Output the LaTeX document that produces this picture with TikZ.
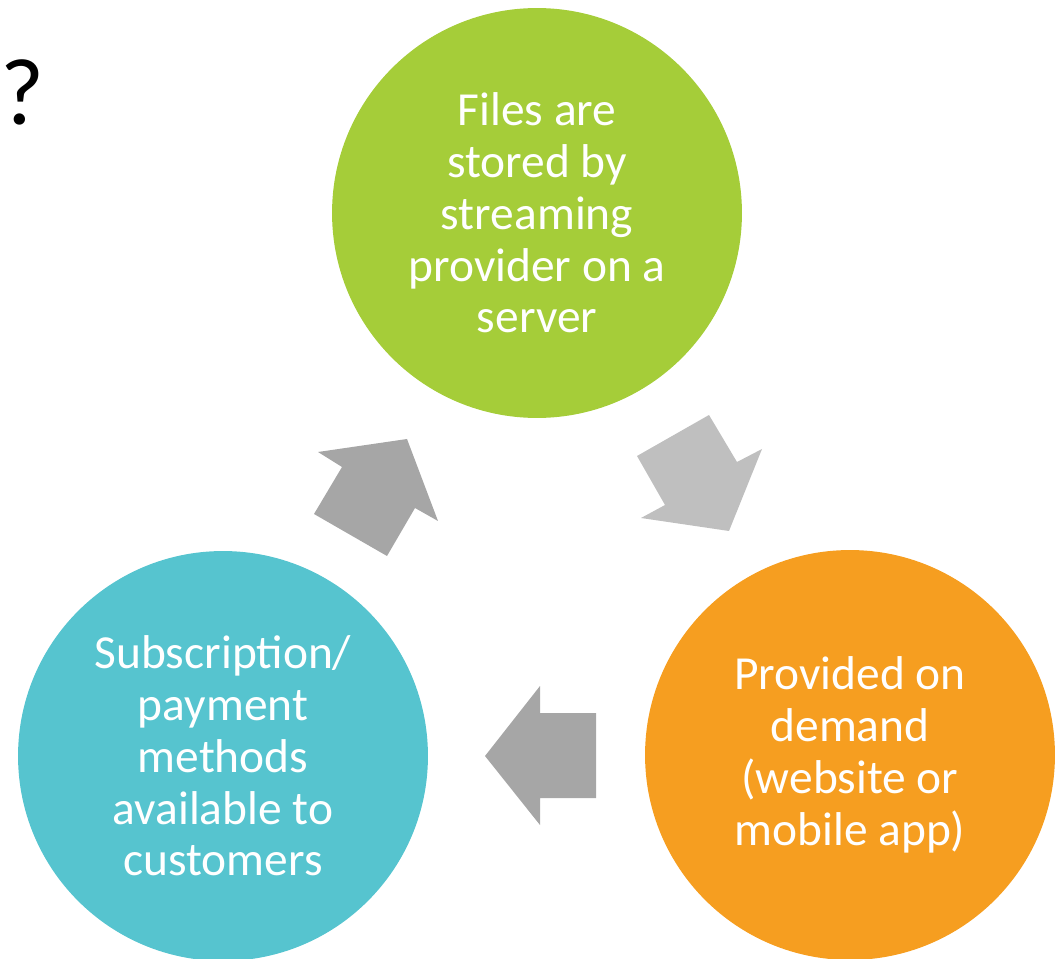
\documentclass[tikz,border=0pt]{standalone}
\usepackage{fontspec}
\setmainfont{Carlito}
\usetikzlibrary{positioning}

\definecolor{leafgreen}{HTML}{A5CD39}
\definecolor{aquablue}{HTML}{56C4CF}
\definecolor{amber}{HTML}{F69E20}
\definecolor{arrowdark}{HTML}{A6A6A6}
\definecolor{arrowlight}{HTML}{BFBFBF}

\begin{document}
\begin{tikzpicture}[x=0.02cm, y=-0.02cm,
  stage/.style={circle, minimum size=8.2cm, inner sep=0pt, text=white, align=center, font=\fontsize{27}{29.5}\selectfont},
  flow/.style={fill=arrowdark, draw=none}]
\useasboundingbox (0,0) rectangle (1062,959);
% title remnant, cut by the page edge
\node[anchor=base east, inner sep=0pt, font=\fontsize{54}{60}\selectfont] (title) at (45,125) {k?};
% the three stages
\node[stage, fill=leafgreen] (store) at (537,213) {Files are\\stored by\\streaming\\provider on a\\server};
\node[stage, fill=amber] (demand) at (850,755) {Provided on\\demand\\(website or\\mobile app)};
\node[stage, fill=aquablue] (pay) at (223,756) {Subscription/\\payment\\methods\\available to\\customers};
% block arrows between them
\fill[arrowlight] (709,415) -- (737,462) -- (762,449) -- (729,531) -- (641,518) -- (665,505) -- (637,456) -- cycle;
\fill[flow] (596,713) -- (540,713) -- (540,686) -- (485,756) -- (540,825) -- (540,798) -- (596,798) -- cycle;
\fill[flow] (387,556) -- (415,508) -- (438,521) -- (407,439) -- (318,452) -- (342,467) -- (314,514) -- cycle;
\end{tikzpicture}
\end{document}
